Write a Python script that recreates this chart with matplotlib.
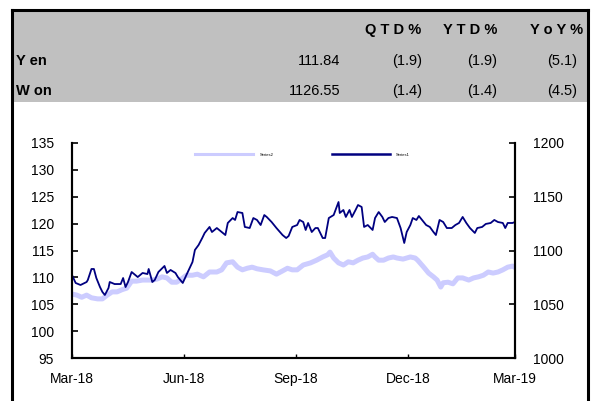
import matplotlib

matplotlib.use("Agg")
import matplotlib.pyplot as plt
import pandas as pd
from matplotlib.lines import Line2D
from matplotlib.patches import Rectangle

plt.rcParams["font.family"] = ["Liberation Sans", "DejaVu Sans"]

# summary table
table_header = ["Q T D %", "Y T D %", "Y o Y %"]
table_names = ["Y en", "W on"]
table_level = ["111.84", "1126.55"]
table_qtd = ["(1.9)", "(1.4)"]
table_ytd = ["(1.9)", "(1.4)"]
table_yoy = ["(5.1)", "(4.5)"]

# Yen (left axis)
yen_dates = [
    "2018-03-30", "2018-04-03", "2018-04-07", "2018-04-11", "2018-04-15", "2018-04-20",
    "2018-04-24", "2018-04-28", "2018-05-02", "2018-05-06", "2018-05-10", "2018-05-14",
    "2018-05-18", "2018-05-22", "2018-05-27", "2018-05-31", "2018-06-04", "2018-06-08",
    "2018-06-12", "2018-06-16", "2018-06-20", "2018-06-24", "2018-06-28", "2018-07-02",
    "2018-07-07", "2018-07-11", "2018-07-16", "2018-07-21", "2018-07-27", "2018-07-31",
    "2018-08-04", "2018-08-09", "2018-08-13", "2018-08-17", "2018-08-21", "2018-08-25",
    "2018-08-29", "2018-09-03", "2018-09-09", "2018-09-14", "2018-09-19", "2018-09-23",
    "2018-09-27", "2018-10-01", "2018-10-06", "2018-10-12", "2018-10-17", "2018-10-22",
    "2018-10-26", "2018-10-28", "2018-10-31", "2018-11-04", "2018-11-08", "2018-11-12",
    "2018-11-16", "2018-11-20", "2018-11-24", "2018-11-28", "2018-12-02", "2018-12-04",
    "2018-12-07", "2018-12-11", "2018-12-15", "2018-12-19", "2018-12-22", "2018-12-27",
    "2019-01-02", "2019-01-06", "2019-01-08", "2019-01-13", "2019-01-17", "2019-01-21",
    "2019-01-24", "2019-01-27", "2019-01-29", "2019-02-02", "2019-02-06", "2019-02-10",
    "2019-02-14", "2019-02-19", "2019-02-23", "2019-02-27", "2019-03-03", "2019-03-07",
    "2019-03-11", "2019-03-15", "2019-03-19", "2019-03-23", "2019-03-27", "2019-03-29",
]
yen_values = [
    106.9, 106.7, 106.3, 106.7, 106.2, 106.0,
    106.0, 106.7, 107.3, 107.3, 107.7, 108.0,
    109.3, 109.3, 109.5, 109.5, 109.5, 109.7,
    110.1, 109.9, 109.1, 109.1, 109.7, 110.4,
    110.4, 110.6, 110.1, 111.0, 111.0, 111.4,
    112.7, 112.9, 111.9, 111.4, 111.7, 111.9,
    111.6, 111.4, 111.2, 110.6, 111.2, 111.7,
    111.4, 111.4, 112.3, 112.7, 113.2, 113.8,
    114.2, 114.7, 113.6, 112.7, 112.3, 112.9,
    112.7, 113.2, 113.6, 113.8, 114.3, 113.8,
    113.2, 113.2, 113.6, 113.8, 113.6, 113.4,
    113.8, 113.6, 113.2, 111.9, 110.8, 110.1,
    109.5, 108.2, 109.0, 109.1, 108.8, 109.9,
    109.9, 109.5, 109.9, 110.1, 110.4, 111.0,
    110.8, 111.0, 111.4, 111.9, 112.1, 111.84,
]

# Won (right axis)
won_dates = [
    "2018-03-30", "2018-04-02", "2018-04-06", "2018-04-11", "2018-04-12", "2018-04-15",
    "2018-04-17", "2018-04-19", "2018-04-22", "2018-04-24", "2018-04-26", "2018-04-29",
    "2018-04-30", "2018-05-04", "2018-05-09", "2018-05-11", "2018-05-13", "2018-05-15",
    "2018-05-18", "2018-05-21", "2018-05-23", "2018-05-27", "2018-05-31", "2018-06-01",
    "2018-06-04", "2018-06-06", "2018-06-09", "2018-06-14", "2018-06-16", "2018-06-19",
    "2018-06-23", "2018-06-25", "2018-06-29", "2018-07-02", "2018-07-07", "2018-07-09",
    "2018-07-12", "2018-07-15", "2018-07-17", "2018-07-21", "2018-07-23", "2018-07-27",
    "2018-07-31", "2018-08-03", "2018-08-05", "2018-08-09", "2018-08-11", "2018-08-13",
    "2018-08-17", "2018-08-19", "2018-08-23", "2018-08-26", "2018-08-29", "2018-09-01",
    "2018-09-04", "2018-09-06", "2018-09-10", "2018-09-14", "2018-09-19", "2018-09-22",
    "2018-09-24", "2018-09-27", "2018-10-01", "2018-10-03", "2018-10-06", "2018-10-08",
    "2018-10-10", "2018-10-13", "2018-10-16", "2018-10-18", "2018-10-22", "2018-10-24",
    "2018-10-27", "2018-10-31", "2018-11-04", "2018-11-05", "2018-11-08", "2018-11-10",
    "2018-11-13", "2018-11-15", "2018-11-18", "2018-11-20", "2018-11-23", "2018-11-25",
    "2018-11-28", "2018-12-02", "2018-12-04", "2018-12-07", "2018-12-10", "2018-12-12",
    "2018-12-15", "2018-12-18", "2018-12-22", "2018-12-25", "2018-12-28", "2018-12-30",
    "2019-01-02", "2019-01-04", "2019-01-07", "2019-01-09", "2019-01-13", "2019-01-15",
    "2019-01-18", "2019-01-21", "2019-01-23", "2019-01-26", "2019-01-29", "2019-02-01",
    "2019-02-05", "2019-02-08", "2019-02-11", "2019-02-14", "2019-02-17", "2019-02-20",
    "2019-02-24", "2019-02-26", "2019-03-02", "2019-03-05", "2019-03-09", "2019-03-12",
    "2019-03-15", "2019-03-19", "2019-03-21", "2019-03-23", "2019-03-27", "2019-03-29",
]
won_values = [
    1077.2, 1069.8, 1067.9, 1070.7, 1072.6, 1082.8,
    1082.8, 1074.4, 1066.0, 1061.4, 1058.6, 1065.1,
    1070.7, 1068.8, 1068.8, 1074.4, 1066.0, 1070.7,
    1080.0, 1077.2, 1075.3, 1079.1, 1078.1, 1082.8,
    1070.7, 1072.6, 1080.0, 1085.6, 1079.1, 1081.9,
    1079.1, 1075.3, 1069.8, 1077.2, 1089.3, 1100.5,
    1105.1, 1111.6, 1116.3, 1121.9, 1117.2, 1120.9,
    1117.2, 1114.4, 1125.6, 1130.2, 1128.4, 1135.8,
    1134.9, 1121.9, 1120.9, 1130.2, 1128.4, 1123.7,
    1133.0, 1131.2, 1126.5, 1120.9, 1114.4, 1111.6,
    1113.5, 1121.9, 1123.7, 1128.4, 1126.5, 1119.1,
    1125.6, 1117.2, 1120.9, 1120.9, 1111.6, 1111.6,
    1130.2, 1133.0, 1145.1, 1134.9, 1137.7, 1131.2,
    1137.7, 1131.2, 1137.7, 1142.3, 1140.5, 1121.9,
    1123.7, 1119.1, 1130.2, 1135.8, 1131.2, 1126.5,
    1130.2, 1131.2, 1130.2, 1120.9, 1107.0, 1117.2,
    1123.7, 1130.2, 1128.4, 1132.1, 1126.5, 1123.7,
    1121.9, 1117.2, 1114.4, 1128.4, 1126.5, 1120.9,
    1120.9, 1123.7, 1125.6, 1131.2, 1125.6, 1120.9,
    1116.3, 1120.9, 1121.9, 1124.7, 1125.6, 1128.4,
    1126.5, 1125.6, 1120.9, 1125.6, 1125.6, 1126.55,
]

xtick_dates = ["2018-03-30", "2018-06-30", "2018-09-30", "2018-12-31", "2019-03-29"]
xtick_labels = ["Mar-18", "Jun-18", "Sep-18", "Dec-18", "Mar-19"]
yen_ticks = [95, 100, 105, 110, 115, 120, 125, 130, 135]
won_ticks = [1000, 1050, 1100, 1150, 1200]
legend_labels = ["Series2", "Series1"]

W, H = 595, 401


def fx(x):
    return x / W


def fy(y):
    return 1 - y / H


fig = plt.figure(figsize=(W / 100, H / 100), dpi=100)

# grey header block and outer frame
fig.patches.append(Rectangle((fx(13), fy(102)), fx(587) - fx(13), fy(11) - fy(102),
                             transform=fig.transFigure, facecolor="#c0c0c0",
                             edgecolor="none", zorder=0))
for xs, ys in [((12, 12), (10, 401)), ((588, 588), (10, 401)), ((12, 588), (10, 10))]:
    fig.add_artist(Line2D([fx(v) for v in xs], [fy(v) for v in ys],
                          transform=fig.transFigure, color="black", lw=2.2))

row_y = [61, 91]
for x, lab in zip([421, 497, 583], table_header):
    fig.text(fx(x), fy(30), lab, ha="right", va="center", fontsize=10.5, fontweight="bold")
for i, y in enumerate(row_y):
    fig.text(fx(16), fy(y), table_names[i], ha="left", va="center", fontsize=10.5,
             fontweight="bold")
    for x, col in zip([340, 422, 497, 577], [table_level, table_qtd, table_ytd, table_yoy]):
        fig.text(fx(x), fy(y), col[i], ha="right", va="center", fontsize=10.5)

# chart
ax = fig.add_axes([fx(72), fy(358), fx(515) - fx(72), fy(143) - fy(358)])
ax.plot(pd.to_datetime(yen_dates), yen_values, color="#ccccff", lw=3.6)
ax2 = ax.twinx()
ax2.plot(pd.to_datetime(won_dates), won_values, color="#000080", lw=1.3)

ax.set_xlim(pd.Timestamp(xtick_dates[0]), pd.Timestamp(xtick_dates[-1]))
ax.set_ylim(yen_ticks[0], yen_ticks[-1])
ax2.set_ylim(won_ticks[0], won_ticks[-1])
ax.set_yticks(yen_ticks)
ax2.set_yticks(won_ticks)
ax.set_xticks(pd.to_datetime(xtick_dates))
ax.set_xticklabels(xtick_labels)

for a in (ax, ax2):
    a.spines["top"].set_visible(False)
    for s in ("left", "right", "bottom"):
        a.spines[s].set_linewidth(1.5)
    a.tick_params(axis="y", direction="in", length=4, width=1.2, pad=13, labelsize=10)
ax.tick_params(axis="x", direction="in", length=3, width=1.0, pad=10, labelsize=10)

handles = [Line2D([], [], color="#ccccff", lw=2.2), Line2D([], [], color="#000080", lw=1.8)]
ax2.legend(handles, legend_labels, loc="center", bbox_to_anchor=(0.52, 0.945), ncol=2,
           frameon=False, fontsize=3, handlelength=14, columnspacing=14, handletextpad=1.5)

fig.savefig("out.png", dpi=100)
plt.close(fig)
